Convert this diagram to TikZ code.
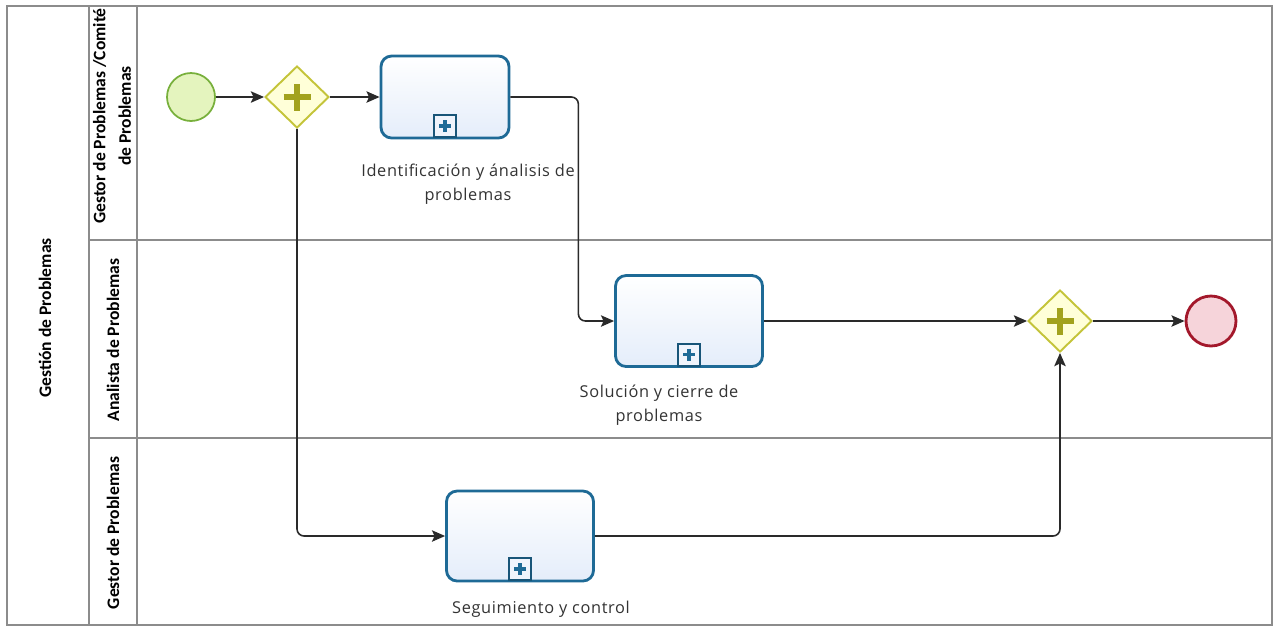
\documentclass[tikz,border=0pt]{standalone}
\usepackage{fontspec}
\setmainfont{Open Sans}
\newfontfamily\lanefont{Carlito}
\newfontfamily\labelfont[LetterSpace=4]{Open Sans}
\usepackage{xcolor}
\usepackage{tikz}
\usetikzlibrary{shapes.geometric, arrows.meta, positioning}
\definecolor{poolGray}{HTML}{8C8C8C}
\definecolor{taskBlue}{HTML}{1E6A96}
\definecolor{taskFill}{HTML}{E4EDFA}
\definecolor{startGreen}{HTML}{78B03C}
\definecolor{startFill}{HTML}{E4F4BE}
\definecolor{gateOlive}{HTML}{C4C43A}
\definecolor{gateFill}{HTML}{FFFFD8}
\definecolor{plusOlive}{HTML}{A2A21E}
\definecolor{endRed}{HTML}{A3182B}
\definecolor{endFill}{HTML}{F6D4DA}
\definecolor{flowGray}{HTML}{2A2A2A}

\begin{document}
\begin{tikzpicture}[
    x=0.02cm, y=-0.02cm,
    pool/.style={draw=poolGray, line width=1.1pt},
    lanetext/.style={rotate=90, align=center, font=\lanefont\bfseries\fontsize{10}{14.5}\selectfont},
    task/.style={rectangle, rounded corners=6pt, draw=taskBlue, line width=1.6pt, top color=white, bottom color=taskFill},
    marker/.style={rectangle, draw=taskBlue!80!black, line width=0.9pt, fill=taskFill!60, minimum size=0.44cm, inner sep=0pt},
    markplus/.style={draw=taskBlue, line width=2pt},
    gateway/.style={diamond, draw=gateOlive, line width=1.1pt, fill=gateFill, minimum width=1.28cm, minimum height=1.24cm, inner sep=0pt},
    gateplus/.style={draw=plusOlive, line width=3.4pt},
    startev/.style={circle, draw=startGreen, line width=1pt, fill=startFill, minimum size=0.96cm, inner sep=0pt},
    endev/.style={circle, draw=endRed, line width=1.6pt, fill=endFill, minimum size=1cm, inner sep=0pt},
    tasklabel/.style={align=center, text=black!80, font=\labelfont\fontsize{9.3}{13.5}\selectfont},
    arrow/.style={-{Stealth[length=7.5pt, width=6.5pt, inset=1.5pt]}, draw=flowGray, line width=0.9pt, rounded corners=4pt},
]
    \useasboundingbox (0,0) rectangle (1275,627);

    % Pool and lanes
    \draw[pool] (7,6) rectangle (1272,625);
    \draw[pool] (89,6) -- (89,625);
    \draw[pool] (137,6) -- (137,625);
    \draw[pool] (89,240) -- (1272,240);
    \draw[pool] (89,438) -- (1272,438);
    \node[lanetext] (pooltitle) at (45,318) {Gestión de Problemas};
    \node[lanetext] (lanecomite) at (112,116) {Gestor de Problemas /Comité\\de Problemas};
    \node[lanetext] (laneanalista) at (113,340) {Analista de Problemas};
    \node[lanetext] (lanegestor) at (113,533) {Gestor de Problemas};

    % Nodes
    \node[startev] (start) at (191,97) {};
    \node[gateway] (split) at (297,97) {};
    \node[task, minimum width=2.56cm, minimum height=1.64cm] (ident) at (445,97) {};
    \node[task, minimum width=2.94cm, minimum height=1.82cm] (sol) at (689,321) {};
    \node[task, minimum width=2.94cm, minimum height=1.8cm] (seg) at (520,536) {};
    \node[gateway] (join) at (1060,321) {};
    \node[endev] (stop) at (1211,321) {};

    % Sub-process markers and gateway crosses
    \foreach \t in {ident, sol, seg} {
        \node[marker, anchor=south] (\t m) at ([yshift=0.8pt]\t.south) {};
        \draw[markplus] ([xshift=-0.12cm]\t m.center) -- ([xshift=0.12cm]\t m.center);
        \draw[markplus] ([yshift=-0.12cm]\t m.center) -- ([yshift=0.12cm]\t m.center);
    }
    \foreach \g in {split, join} {
        \draw[gateplus] ([xshift=-0.27cm]\g.center) -- ([xshift=0.27cm]\g.center);
        \draw[gateplus] ([yshift=-0.27cm]\g.center) -- ([yshift=0.27cm]\g.center);
    }

    % Labels
    \node[tasklabel] (identlbl) at (468,184) {Identificación y ánalisis de\\problemas};
    \node[tasklabel] (sollbl) at (659,405) {Solución y cierre de\\problemas};
    \node[tasklabel] (seglbl) at (541,609) {Seguimiento y control};

    % Arrows
    \draw[arrow] (start) -- (split);
    \draw[arrow] (split) -- (ident);
    \draw[arrow] (ident.east) -- ++(68,0) |- (sol.west);
    \draw[arrow] (split.south) |- (seg.west);
    \draw[arrow] (sol) -- (join);
    \draw[arrow] (seg.east) -| (join.south);
    \draw[arrow] (join) -- (stop);
\end{tikzpicture}
\end{document}
